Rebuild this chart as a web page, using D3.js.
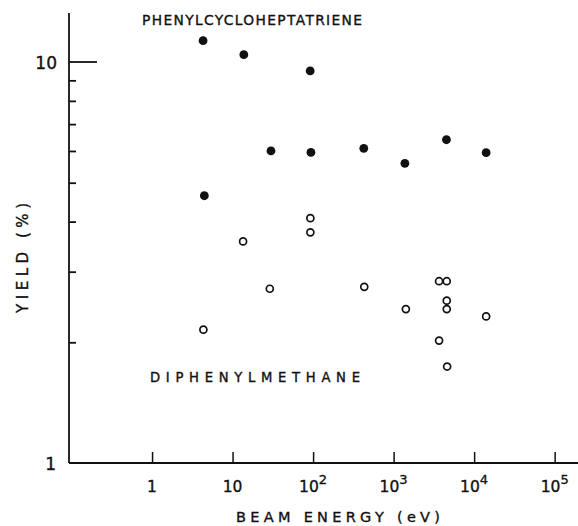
<!DOCTYPE html>
<html><head><meta charset="utf-8">
<script src="https://cdn.jsdelivr.net/npm/d3@7"></script>
<style>
html,body{margin:0;padding:0;background:#fff;}
svg{display:block;font-family:"DejaVu Sans","Liberation Sans",sans-serif;}
text{stroke:#111;stroke-width:0.35px;}
</style></head>
<body><svg id="c" width="578" height="526"></svg>
<script>
// Data (beam energy in eV, yield in %)
const pctEnergy = [4.3, 13.8, 92, 30, 94, 426, 1380, 4530, 14100, 4.46];
const pctYield  = [11.3, 10.43, 9.5, 6.0, 5.95, 6.09, 5.59, 6.4, 5.94, 4.64];
const dpmEnergy = [4.34, 13.5, 92.5, 92.5, 29, 432, 1420, 3670, 4570, 4570, 4570, 14100, 3670, 4620];
const dpmYield  = [2.15, 3.57, 4.08, 3.76, 2.72, 2.75, 2.42, 2.84, 2.84, 2.54, 2.42, 2.32, 2.02, 1.74];
const xTickValues = [1, 10, 100, 1000, 10000, 100000];
const xTickLabels = [["1",""],["10",""],["10","2"],["10","3"],["10","4"],["10","5"]];
const yMinorTicks = [2,3,4,5,6,7,8,9];
const yTickLabels = [["1",1],["10",10]];

const svg = d3.select("#c");
const ink = "#111";

const x = d3.scaleLog().domain([0.093, Math.pow(10,5.29)]).range([69, 578]);
const y = d3.scaleLog().domain([1, 13.25]).range([463, 13]);

// axes lines
svg.append("line").attr("x1", x.range()[0]).attr("x2", x.range()[1])
  .attr("y1", y(1)).attr("y2", y(1)).attr("stroke", ink).attr("stroke-width", 1.8);
svg.append("line").attr("x1", x.range()[0]).attr("x2", x.range()[0])
  .attr("y1", y.range()[0]).attr("y2", y.range()[1]).attr("stroke", ink).attr("stroke-width", 1.8);

// x ticks (inward, upward)
const xAxis = d3.axisTop(x).tickValues(xTickValues).tickSize(11).tickFormat("");
const gx = svg.append("g").attr("transform", `translate(0,${y(1)})`).call(xAxis);
gx.select(".domain").remove();
gx.selectAll(".tick line").attr("stroke", ink).attr("stroke-width", 1.5);

// x tick labels
xTickValues.forEach((v,i)=>{
  const t = svg.append("text").attr("x", x(v)).attr("y", 491.5)
    .attr("font-size", 15.5).attr("fill", ink).attr("text-anchor", "middle");
  t.append("tspan").text(xTickLabels[i][0]);
  if (xTickLabels[i][1]) t.append("tspan").attr("font-size", 13).attr("dy", -8).text(xTickLabels[i][1]);
});

// y ticks
const yAxis = d3.axisRight(y).tickValues(yMinorTicks).tickSize(7).tickFormat("");
const gy = svg.append("g").attr("transform", `translate(${x.range()[0]},0)`).call(yAxis);
gy.select(".domain").remove();
gy.selectAll(".tick line").attr("stroke", ink).attr("stroke-width", 1.8);
svg.append("line").attr("x1", x.range()[0]).attr("x2", x.range()[0] + 28)
  .attr("y1", y(10)).attr("y2", y(10)).attr("stroke", ink).attr("stroke-width", 1.8);

yTickLabels.forEach(([lab,v])=>{
  svg.append("text").attr("x", lab==="1" ? 56 : 57).attr("y", y(v) + 6.5)
    .attr("font-size", 17).attr("fill", ink).attr("text-anchor", "end").text(lab);
});

// axis titles
svg.append("text").attr("x", 236).attr("y", 522).attr("font-size", 14.5).attr("fill", ink)
  .attr("textLength", 204).attr("lengthAdjust", "spacing").text("BEAM ENERGY (eV)");
svg.append("text").attr("transform", "translate(28,313) rotate(-90)").attr("font-size", 15)
  .attr("fill", ink).attr("textLength", 110).attr("lengthAdjust", "spacing").text("YIELD (%)");

// series labels
svg.append("text").attr("x", 142).attr("y", 24.5).attr("font-size", 13.8).attr("fill", ink)
  .attr("textLength", 220).attr("lengthAdjust", "spacing").text("PHENYLCYCLOHEPTATRIENE");
svg.append("text").attr("x", 150).attr("y", 382).attr("font-size", 13.2).attr("fill", ink)
  .attr("textLength", 210).attr("lengthAdjust", "spacing").text("DIPHENYLMETHANE");

// points
svg.append("g").selectAll("circle").data(pctEnergy.map((e,i)=>[e,pctYield[i]])).join("circle")
  .attr("cx", d=>x(d[0])).attr("cy", d=>y(d[1])).attr("r", 4.4).attr("fill", ink);
svg.append("g").selectAll("circle").data(dpmEnergy.map((e,i)=>[e,dpmYield[i]])).join("circle")
  .attr("cx", d=>x(d[0])).attr("cy", d=>y(d[1])).attr("r", 3.5).attr("fill", "none")
  .attr("stroke", ink).attr("stroke-width", 1.7);
</script></body></html>
